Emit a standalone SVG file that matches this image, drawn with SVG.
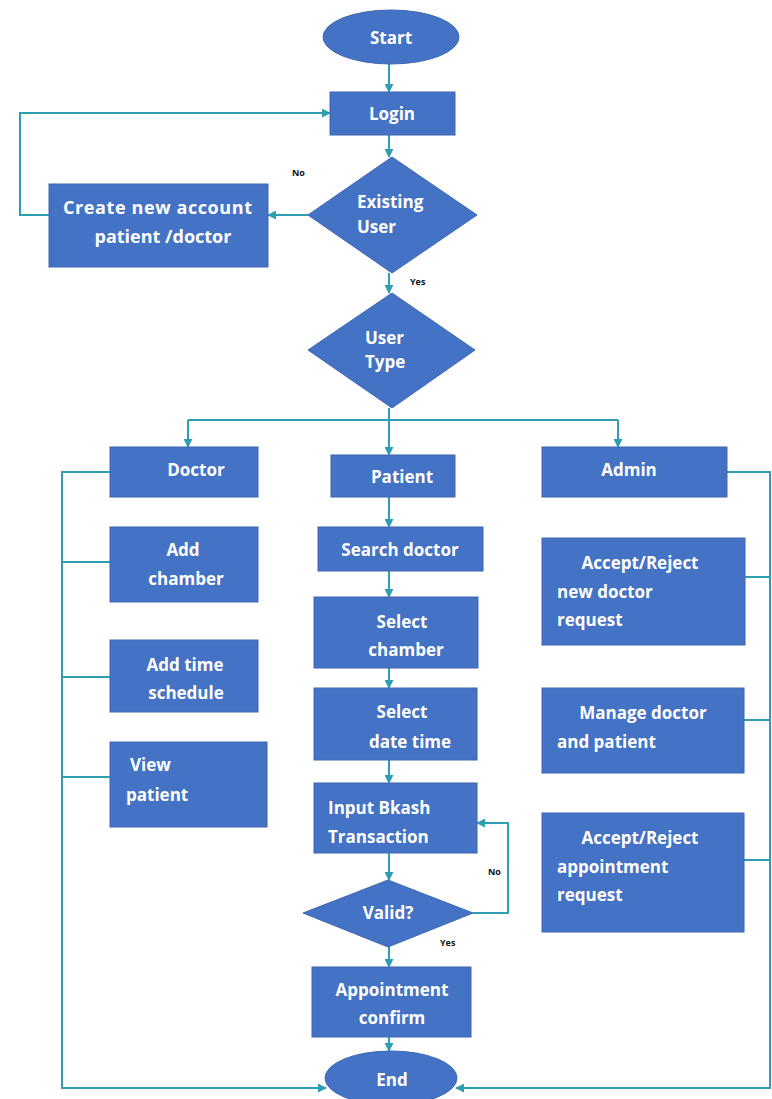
<svg xmlns="http://www.w3.org/2000/svg" width="772" height="1099" viewBox="0 0 772 1099">
<style>
.n{fill:#4472C4;stroke:#3d67b3;stroke-width:1}
.t{font-family:"Open Sans","Liberation Sans",sans-serif;font-weight:bold;font-size:17px;fill:#ffffff}
.c{text-anchor:middle}
.l{font-family:"Open Sans","Liberation Sans",sans-serif;font-weight:bold;font-size:9px;fill:#111111}
.e{fill:none;stroke:#2e9fb3;stroke-width:2}
</style>
<defs>
<marker id="ah" viewBox="0 0 10 10" refX="9" refY="5" markerWidth="9" markerHeight="9" markerUnits="userSpaceOnUse" orient="auto">
<path d="M0,0 L10,5 L0,10 z" fill="#2e9fb3"/>
</marker>
</defs>
<rect width="772" height="1099" fill="#ffffff"/>
<g id="connectors">
<path class="e" d="M389,64 L389,92" marker-end="url(#ah)"/>
<path class="e" d="M389,135 L389,157" marker-end="url(#ah)"/>
<path class="e" d="M308,215 L268,215" marker-end="url(#ah)"/>
<path class="e" d="M49,215 L20,215 L20,113 L330,113" marker-end="url(#ah)"/>
<path class="e" d="M389,273 L389,293" marker-end="url(#ah)"/>
<path class="e" d="M389,408 L389,455" marker-end="url(#ah)"/>
<path class="e" d="M188,420 L618,420"/>
<path class="e" d="M188,420 L188,447" marker-end="url(#ah)"/>
<path class="e" d="M618,420 L618,447" marker-end="url(#ah)"/>
<path class="e" d="M389,497 L389,527" marker-end="url(#ah)"/>
<path class="e" d="M389,571 L389,597" marker-end="url(#ah)"/>
<path class="e" d="M389,668 L389,688" marker-end="url(#ah)"/>
<path class="e" d="M389,760 L389,783" marker-end="url(#ah)"/>
<path class="e" d="M389,853 L389,880" marker-end="url(#ah)"/>
<path class="e" d="M473,913 L508,913 L508,823 L477,823" marker-end="url(#ah)"/>
<path class="e" d="M389,947 L389,967" marker-end="url(#ah)"/>
<path class="e" d="M389,1037 L389,1051" marker-end="url(#ah)"/>
<path class="e" d="M110,472 L62,472 L62,1088 L326,1088" marker-end="url(#ah)"/>
<path class="e" d="M110,562 L62,562"/>
<path class="e" d="M110,677 L62,677"/>
<path class="e" d="M110,777 L62,777"/>
<path class="e" d="M727,472 L770,472 L770,1088 L456,1088" marker-end="url(#ah)"/>
<path class="e" d="M745,577 L770,577"/>
<path class="e" d="M744,720 L770,720"/>
<path class="e" d="M744,860 L770,860"/>
</g>
<g id="start"><ellipse class="n" cx="391" cy="37" rx="68" ry="27"/><text class="t c" x="391" y="44">Start</text></g>
<g id="login"><rect class="n" x="330" y="92" width="125" height="43"/><text class="t c" x="392" y="120">Login</text></g>
<g id="existing-user"><polygon class="n" points="392,157 477,215 392,273 308,215"/><text class="t" x="357" y="208">Existing</text><text class="t" x="357" y="233">User</text></g>
<g id="create-account"><rect class="n" x="49" y="184" width="219" height="83"/><text class="t" x="63" y="214" style="font-size:18px;letter-spacing:0.6px">Create new account</text><text class="t c" x="163" y="243" style="font-size:18px">patient /doctor</text></g>
<g id="label-no1"><text class="l" x="292" y="176">No</text></g>
<g id="label-yes1"><text class="l" x="410" y="285">Yes</text></g>
<g id="user-type"><polygon class="n" points="392,293 475,350 392,408 308,350"/><text class="t" x="365" y="344">User</text><text class="t" x="365" y="368">Type</text></g>
<g id="doctor"><rect class="n" x="110" y="447" width="148" height="50"/><text class="t c" x="196" y="476">Doctor</text></g>
<g id="patient"><rect class="n" x="331" y="455" width="124" height="42"/><text class="t c" x="402" y="483">Patient</text></g>
<g id="admin"><rect class="n" x="542" y="447" width="185" height="50"/><text class="t c" x="629" y="476">Admin</text></g>
<g id="add-chamber"><rect class="n" x="110" y="527" width="148" height="75"/><text class="t c" x="183" y="556">Add</text><text class="t c" x="186" y="585">chamber</text></g>
<g id="add-time"><rect class="n" x="110" y="640" width="148" height="72"/><text class="t c" x="185" y="671">Add time</text><text class="t c" x="186" y="699">schedule</text></g>
<g id="view-patient"><rect class="n" x="110" y="742" width="157" height="85"/><text class="t" x="130" y="771">View</text><text class="t" x="126" y="801">patient</text></g>
<g id="search-doctor"><rect class="n" x="318" y="527" width="165" height="44"/><text class="t c" x="400" y="556">Search doctor</text></g>
<g id="select-chamber"><rect class="n" x="314" y="597" width="164" height="71"/><text class="t c" x="402" y="628">Select</text><text class="t c" x="406" y="656">chamber</text></g>
<g id="select-date"><rect class="n" x="314" y="688" width="163" height="72"/><text class="t c" x="402" y="718">Select</text><text class="t c" x="410" y="748">date time</text></g>
<g id="input-bkash"><rect class="n" x="314" y="783" width="163" height="70"/><text class="t" x="328" y="814">Input Bkash</text><text class="t" x="328" y="843">Transaction</text></g>
<g id="valid"><polygon class="n" points="388,880 473,913 388,947 303,913"/><text class="t c" x="388" y="919">Valid?</text></g>
<g id="label-no2"><text class="l" x="488" y="875">No</text></g>
<g id="label-yes2"><text class="l" x="440" y="946">Yes</text></g>
<g id="appointment-confirm"><rect class="n" x="312" y="967" width="159" height="70"/><text class="t c" x="392" y="996">Appointment</text><text class="t c" x="392" y="1024">confirm</text></g>
<g id="end"><ellipse class="n" cx="391" cy="1078" rx="66" ry="27"/><text class="t c" x="392" y="1086">End</text></g>
<g id="accept-doctor"><rect class="n" x="542" y="538" width="203" height="107"/><text class="t c" x="640" y="569">Accept/Reject</text><text class="t" x="557" y="598">new doctor</text><text class="t" x="557" y="626">request</text></g>
<g id="manage"><rect class="n" x="542" y="688" width="202" height="85"/><text class="t c" x="643" y="719">Manage doctor</text><text class="t" x="557" y="748">and patient</text></g>
<g id="accept-appointment"><rect class="n" x="542" y="813" width="202" height="119"/><text class="t c" x="640" y="844">Accept/Reject</text><text class="t" x="557" y="873">appointment</text><text class="t" x="557" y="901">request</text></g>
</svg>
